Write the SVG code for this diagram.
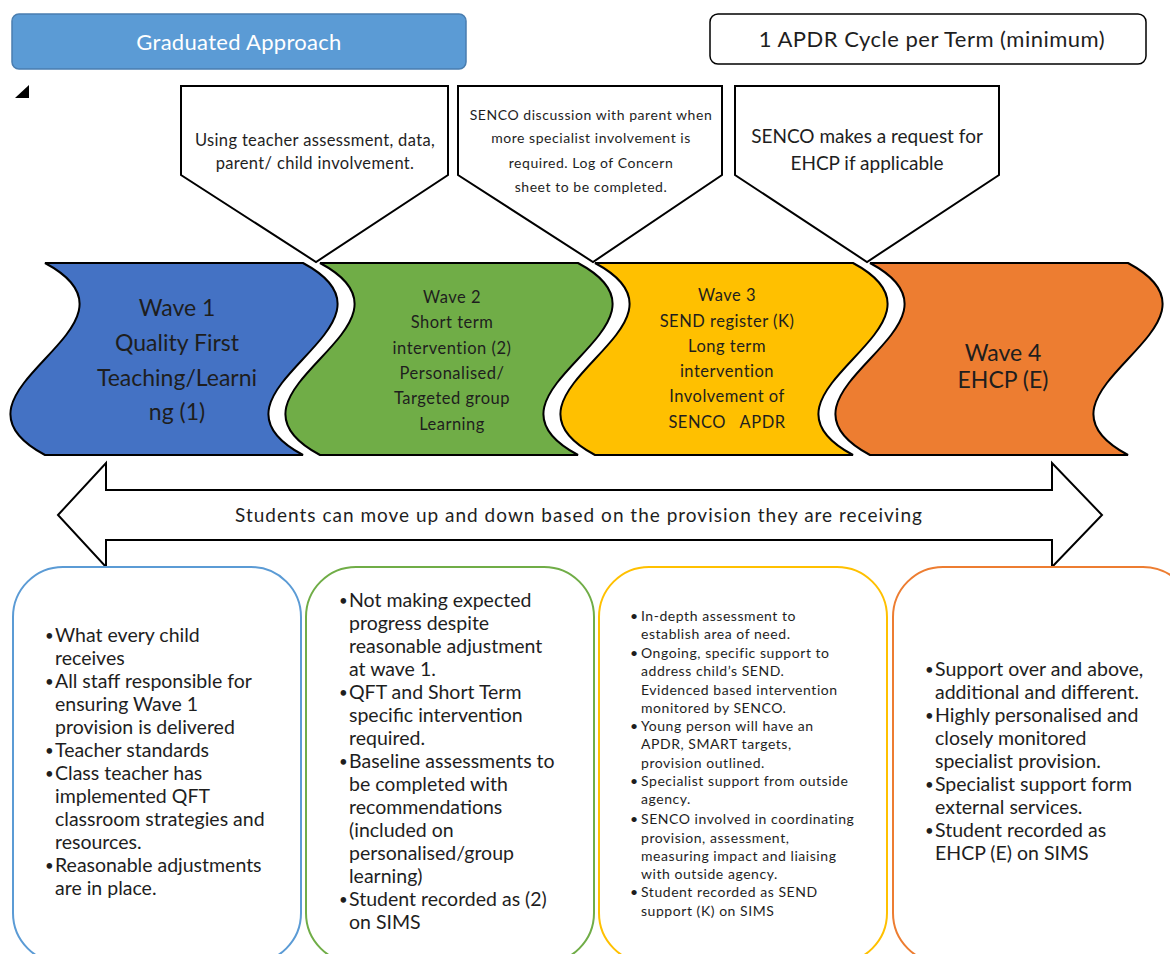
<svg xmlns="http://www.w3.org/2000/svg" width="1170" height="954" viewBox="0 0 1170 954">
<style>
text{font-family:Lato,"Liberation Sans",sans-serif;fill:#1e1e1e}
.c{text-anchor:middle}
.call{fill:#fff;stroke:#000;stroke-width:2}
.wave{stroke:#000;stroke-width:2}
.box{fill:#fff;stroke-width:2}
.b18{font-size:19.5px}
.b13{font-size:14px;letter-spacing:0.55px}
.w21{font-size:23px}
.w15{font-size:16.5px;letter-spacing:0.5px}
.bu{font-size:15px}
</style>
<rect width="1170" height="954" fill="#fff"/>
<g id="graduated">
<rect x="12" y="14" width="454" height="55" rx="7" fill="#5B9BD5" stroke="#4A7EB0" stroke-width="1.5"/>
<text x="239" y="50" class="c" style="font-size:22px;letter-spacing:0.3px;fill:#fff">Graduated Approach</text>
</g>
<g id="apdr">
<rect x="710" y="14" width="436" height="50" rx="8" fill="#fff" stroke="#000" stroke-width="1.5"/>
<text x="932" y="47" class="c" style="font-size:22px;letter-spacing:0.5px">1 APDR Cycle per Term (minimum)</text>
</g>
<polygon points="15,98 29,98 29,85" fill="#000"/>
<g id="callout1">
<path class="call" d="M181,86 L448,86 L448,175 L316,262 L181,175 Z"/>
<text class="c" x="315" y="146" style="font-size:16.5px;letter-spacing:0.35px">Using teacher assessment, data,</text>
<text class="c" x="315" y="169" style="font-size:16.5px;letter-spacing:0.35px">parent/ child involvement.</text>
</g>
<g id="callout2">
<path class="call" d="M458,86 L722,86 L722,175 L593,262 L458,175 Z"/>
<text class="c" x="591" y="120" style="font-size:14px;letter-spacing:0.55px">SENCO discussion with parent when</text>
<text class="c" x="591" y="143" style="font-size:14px;letter-spacing:0.55px">more specialist involvement is</text>
<text class="c" x="591" y="168" style="font-size:14px;letter-spacing:0.55px">required. Log of Concern</text>
<text class="c" x="591" y="192" style="font-size:14px;letter-spacing:0.55px">sheet to be completed.</text>
</g>
<g id="callout3">
<path class="call" d="M735,86 L999,86 L999,175 L867,262 L735,175 Z"/>
<text class="c" x="867" y="143" style="font-size:19px">SENCO makes a request for</text>
<text class="c" x="867" y="170" style="font-size:19px">EHCP if applicable</text>
</g>
<g id="wave1">
<path class="wave" fill="#4472C4" d="M45,263 L303,263 C423,327 183,391 303,455 L45,455 C-75,391 165,327 45,263 Z"/>
<text class="c w21" x="177" y="316">Wave 1</text>
<text class="c w21" x="177" y="351">Quality First</text>
<text class="c w21" x="177" y="386">Teaching/Learni</text>
<text class="c w21" x="177" y="420">ng (1)</text>
</g>
<g id="wave2">
<path class="wave" fill="#70AD47" d="M320,263 L578,263 C698,327 458,391 578,455 L320,455 C200,391 440,327 320,263 Z"/>
<text class="c w15" x="452" y="303">Wave 2</text>
<text class="c w15" x="452" y="328">Short term</text>
<text class="c w15" x="452" y="354">intervention (2)</text>
<text class="c w15" x="452" y="379">Personalised/</text>
<text class="c w15" x="452" y="404">Targeted group</text>
<text class="c w15" x="452" y="430">Learning</text>
</g>
<g id="wave3">
<path class="wave" fill="#FFC000" d="M595,263 L853,263 C973,327 733,391 853,455 L595,455 C475,391 715,327 595,263 Z"/>
<text class="c w15" x="727" y="301">Wave 3</text>
<text class="c w15" x="727" y="327">SEND register (K)</text>
<text class="c w15" x="727" y="352">Long term</text>
<text class="c w15" x="727" y="377">intervention</text>
<text class="c w15" x="727" y="402">Involvement of</text>
<text class="c w15" x="727" y="428" xml:space="preserve">SENCO   APDR</text>
</g>
<g id="wave4">
<path class="wave" fill="#ED7D31" d="M870,263 L1128,263 C1248,327 1008,391 1128,455 L870,455 C750,391 990,327 870,263 Z"/>
<text class="c w21" x="1003" y="361">Wave 4</text>
<text class="c w21" x="1003" y="388">EHCP (E)</text>
</g>
<g id="connectors">
<path d="M58,515 L106,463 L106,490 L1052,490 L1052,463 L1102,515 L1052,567 L1052,540 L106,540 L106,567 Z" fill="#fff" stroke="#000" stroke-width="2"/>
<text class="c" x="579" y="522" style="font-size:19px;letter-spacing:1px">Students can move up and down based on the provision they are receiving</text>
</g>
<g id="box1" class="b18">
<rect class="box" x="13" y="567" width="288" height="396" rx="50" stroke="#5B9BD5"/>
<text class="bu" x="45" y="641">•</text><text x="55" y="642">What every child</text>
<text x="55" y="665">receives</text>
<text class="bu" x="45" y="687">•</text><text x="55" y="688">All staff responsible for</text>
<text x="55" y="711">ensuring Wave 1</text>
<text x="55" y="734">provision is delivered</text>
<text class="bu" x="45" y="756">•</text><text x="55" y="757">Teacher standards</text>
<text class="bu" x="45" y="779">•</text><text x="55" y="780">Class teacher has</text>
<text x="55" y="803">implemented QFT</text>
<text x="55" y="826">classroom strategies and</text>
<text x="55" y="849">resources.</text>
<text class="bu" x="45" y="871">•</text><text x="55" y="872">Reasonable adjustments</text>
<text x="55" y="895">are in place.</text>
</g>
<g id="box2" class="b18">
<rect class="box" x="306" y="567" width="288" height="396" rx="50" stroke="#70AD47"/>
<text class="bu" x="339" y="606">•</text><text x="349" y="607">Not making expected</text>
<text x="349" y="630">progress despite</text>
<text x="349" y="653">reasonable adjustment</text>
<text x="349" y="676">at wave 1.</text>
<text class="bu" x="339" y="698">•</text><text x="349" y="699">QFT and Short Term</text>
<text x="349" y="722">specific intervention</text>
<text x="349" y="745">required.</text>
<text class="bu" x="339" y="767">•</text><text x="349" y="768">Baseline assessments to</text>
<text x="349" y="791">be completed with</text>
<text x="349" y="814">recommendations</text>
<text x="349" y="837">(included on</text>
<text x="349" y="860">personalised/group</text>
<text x="349" y="883">learning)</text>
<text class="bu" x="339" y="905">•</text><text x="349" y="906">Student recorded as (2)</text>
<text x="349" y="929">on SIMS</text>
</g>
<g id="box3" class="b13">
<rect class="box" x="599" y="567" width="288" height="396" rx="50" stroke="#FFC000"/>
<text x="630" y="621">•</text><text x="641" y="621">In-depth assessment to</text>
<text x="641" y="639">establish area of need.</text>
<text x="630" y="658">•</text><text x="641" y="658">Ongoing, specific support to</text>
<text x="641" y="676">address child’s SEND.</text>
<text x="641" y="695">Evidenced based intervention</text>
<text x="641" y="713">monitored by SENCO.</text>
<text x="630" y="731">•</text><text x="641" y="731">Young person will have an</text>
<text x="641" y="749">APDR, SMART targets,</text>
<text x="641" y="768">provision outlined.</text>
<text x="630" y="786">•</text><text x="641" y="786">Specialist support from outside</text>
<text x="641" y="804">agency.</text>
<text x="630" y="824">•</text><text x="641" y="824">SENCO involved in coordinating</text>
<text x="641" y="843">provision, assessment,</text>
<text x="641" y="861">measuring impact and liaising</text>
<text x="641" y="879">with outside agency.</text>
<text x="630" y="897">•</text><text x="641" y="897">Student recorded as SEND</text>
<text x="641" y="916">support (K) on SIMS</text>
</g>
<g id="box4" class="b18">
<rect class="box" x="893" y="567" width="300" height="396" rx="50" stroke="#ED7D31"/>
<text class="bu" x="925" y="675">•</text><text x="935" y="676">Support over and above,</text>
<text x="935" y="699">additional and different.</text>
<text class="bu" x="925" y="721">•</text><text x="935" y="722">Highly personalised and</text>
<text x="935" y="745">closely monitored</text>
<text x="935" y="768">specialist provision.</text>
<text class="bu" x="925" y="790">•</text><text x="935" y="791">Specialist support form</text>
<text x="935" y="814">external services.</text>
<text class="bu" x="925" y="836">•</text><text x="935" y="837">Student recorded as</text>
<text x="935" y="860">EHCP (E) on SIMS</text>
</g>
</svg>
